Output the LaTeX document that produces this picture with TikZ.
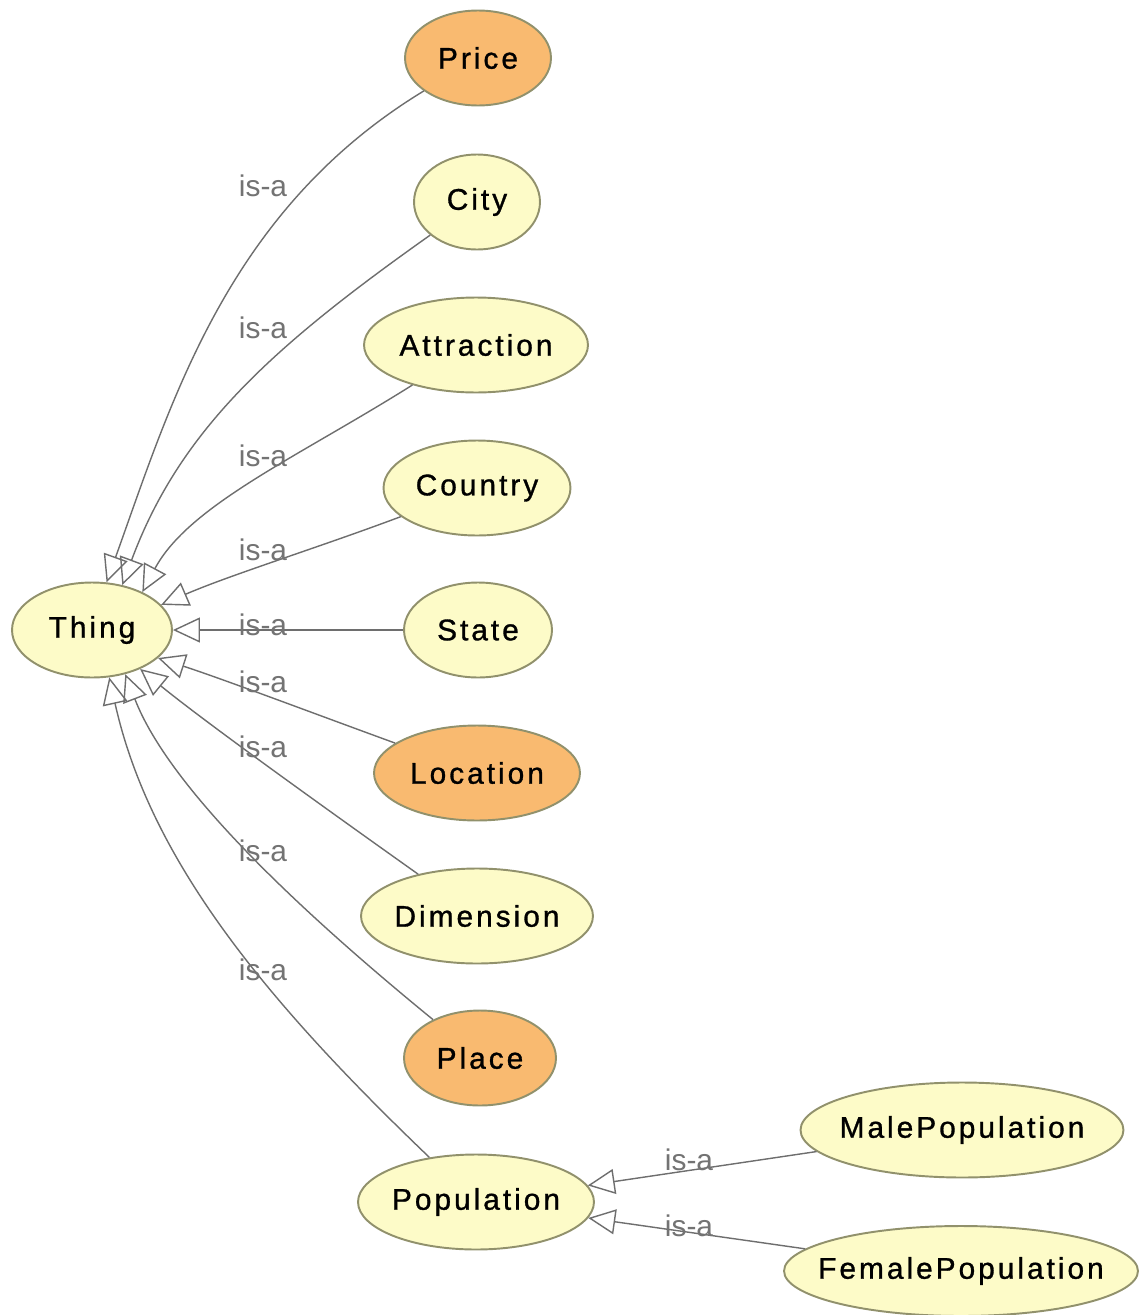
\documentclass[tikz,border=0pt]{standalone}
\usepackage{fontspec}
\setmainfont{Liberation Sans}
\newfontfamily\classfont[LetterSpace=10,FakeBold=1]{Liberation Sans}
\usetikzlibrary{arrows.meta,shapes.geometric}
\definecolor{classfill}{RGB}{253,251,200}
\definecolor{hlfill}{RGB}{249,186,112}
\definecolor{classline}{RGB}{145,145,108}
\definecolor{edgegray}{RGB}{110,110,110}
\definecolor{labelgray}{RGB}{115,115,115}
% class names do not widen their ellipses; the ellipse size is set per node
\newcommand\cname[1]{\makebox[0pt]{#1}}

\begin{document}
\begin{tikzpicture}[x=0.02cm,y=0.02cm,
  cls/.style={ellipse, draw=classline, line width=1.1pt, fill=classfill,
    minimum height=1.9cm, inner sep=0pt,
    font=\classfont\fontsize{17}{20}\selectfont},
  hl/.style={cls, fill=hlfill},
  isa/.style={draw=edgegray, line width=0.8pt,
    -{Triangle[open,length=0.54cm,width=0.5cm]}},
  lbl/.style={text=labelgray, font=\fontsize{17}{20}\selectfont, inner sep=0pt}
]
\clip (0,0) rectangle (1139,-1315);
\fill[white] (0,0) rectangle (1139,-1315);

% classes
\node[cls, minimum width=3.2cm]  (thing)      at (92,-630)   {\cname{Thing}};
\node[hl,  minimum width=2.92cm] (price)      at (478,-58)   {\cname{Price}};
\node[cls, minimum width=2.52cm] (city)       at (477,-202)  {\cname{City}};
\node[cls, minimum width=4.48cm] (attraction) at (476,-345)  {\cname{Attraction}};
\node[cls, minimum width=3.74cm] (country)    at (477,-488)  {\cname{Country}};
\node[cls, minimum width=2.96cm] (state)      at (478,-630)  {\cname{State}};
\node[hl,  minimum width=4.12cm] (location)   at (477,-773)  {\cname{Location}};
\node[cls, minimum width=4.64cm] (dimension)  at (477,-916)  {\cname{Dimension}};
\node[hl,  minimum width=3.04cm] (place)      at (480,-1058) {\cname{Place}};
\node[cls, minimum width=4.72cm] (population) at (476,-1202) {\cname{Population}};
\node[cls, minimum width=6.46cm] (male)       at (962,-1130) {\cname{MalePopulation}};
\node[cls, minimum width=7.08cm, minimum height=1.8cm] (female) at (961,-1271) {\cname{FemalePopulation}};

% subclass links to Thing
\draw[isa] (price) .. controls (228,-210) and (172,-400) .. (thing.73);
\draw[isa] (city) .. controls (272,-347) and (180,-430) .. (thing.56);
\draw[isa] (attraction) .. controls (298,-457) and (189,-505) .. (thing.37);
\draw[isa] (country) .. controls (320,-547) and (230,-575) .. (thing.20);
\draw[isa] (state) -- (thing);
\draw[isa] (location) .. controls (310,-712) and (220,-678) .. (thing.-23);
\draw[isa] (dimension) .. controls (325,-808) and (205,-722) .. (thing.-39);
\draw[isa] (place) .. controls (305,-915) and (170,-790) .. (thing.-53);
\draw[isa] (population) .. controls (265,-1000) and (150,-860) .. (thing.-70);

% subclass links to Population
\draw[isa] (male) -- (population);
\draw[isa] (female) -- (population);

% link labels
\node[lbl] (l1)  at (263,-186)  {is-a};
\node[lbl] (l2)  at (263,-328)  {is-a};
\node[lbl] (l3)  at (263,-456)  {is-a};
\node[lbl] (l4)  at (263,-550)  {is-a};
\node[lbl] (l5)  at (263,-625)  {is-a};
\node[lbl] (l6)  at (263,-682)  {is-a};
\node[lbl] (l7)  at (263,-747)  {is-a};
\node[lbl] (l8)  at (263,-851)  {is-a};
\node[lbl] (l9)  at (263,-970)  {is-a};
\node[lbl] (l10) at (689,-1160) {is-a};
\node[lbl] (l11) at (689,-1226) {is-a};
\end{tikzpicture}
\end{document}
